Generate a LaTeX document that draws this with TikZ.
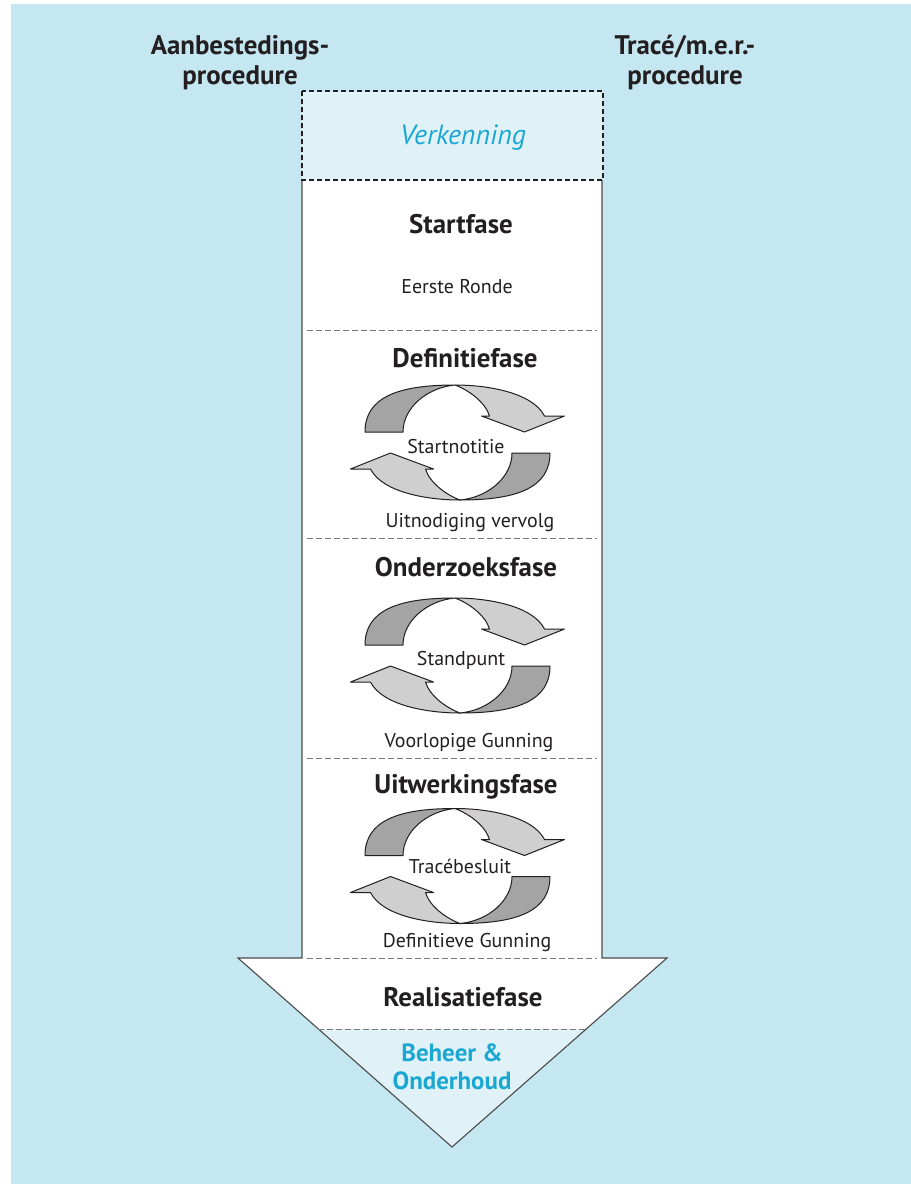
\documentclass[tikz,border=0pt]{standalone}
\usepackage{fontspec}
\setmainfont{PT Sans}
\definecolor{sky}{HTML}{C5E7F1}
\definecolor{pale}{HTML}{E0F2F7}
\definecolor{cyantext}{HTML}{1AA7D2}
\definecolor{ink}{HTML}{231F20}
\definecolor{edge}{HTML}{4A4A4A}
\definecolor{ribbondark}{HTML}{A4A4A4}
\definecolor{ribbonlight}{HTML}{CFCFCF}
\definecolor{divider}{HTML}{7A7A7A}
\tikzset{
  phase/.style={anchor=base, text=ink, font=\fontsize{27}{32}\selectfont\bfseries},
  note/.style={anchor=base, text=ink, font=\fontsize{20}{24}\selectfont},
  heading/.style={anchor=base, text=ink, align=center, font=\fontsize{27}{30}\selectfont\bfseries},
  divline/.style={draw=divider, line width=1bp, dash pattern=on 6bp off 3bp},
  ribbon back/.style={fill=ribbondark, draw=ink, line width=1bp, line join=round},
  ribbon front/.style={fill=ribbonlight, draw=ink, line width=1bp, line join=round},
  halfloop/.pic={
    \filldraw[ribbon back] (-92.5,-10.5) .. controls (-92.5,-45) and (-60,-57.5) .. (-2.5,-57.5)
      .. controls (-30,-55) and (-54.5,-35) .. (-54.5,-10.5) -- cycle;
    \filldraw[ribbon front] (-2.5,-57.5) .. controls (30,-57.5) and (75,-50) .. (87,-26.5)
      -- (107,-26.5) -- (67,-10.5) -- (24,-26.5) -- (32,-26.5)
      .. controls (28,-40) and (12,-52) .. (-2.5,-57.5) -- cycle;
  },
  loop pair/.pic={
    \pic {halfloop};
    \pic[rotate=180] {halfloop};
  }
}
\begin{document}
\begin{tikzpicture}[x=1bp,y=-1bp]
\useasboundingbox (0,0) rectangle (911,1184);
\fill[sky] (11,4) rectangle (911,1184);

% shaft and head of the big arrow
\coordinate (shaftTL) at (302,180);
\coordinate (shaftTR) at (602,180);
\coordinate (shaftBL) at (302,958);
\coordinate (shaftBR) at (602,958);
\coordinate (headL) at (238,958);
\coordinate (headR) at (667,958);
\coordinate (apex) at (452,1147);
\coordinate (baseL) at (318.4,1029);
\coordinate (baseR) at (586.2,1029);

\fill[white] (shaftTL) -- (shaftBL) -- (headL) -- (apex) -- (headR) -- (shaftBR) -- (shaftTR) -- cycle;
\fill[pale] (baseL) -- (baseR) -- (apex) -- cycle;
\draw[edge, line width=1.1bp, line join=miter] (shaftTL) -- (shaftBL) -- (headL) -- (apex) -- (headR) -- (shaftBR) -- (shaftTR);

% Verkenning box
\filldraw[fill=pale, draw=ink, line width=1.3bp, dash pattern=on 5bp off 3bp] (302,91) rectangle (603,180);

% phase dividers
\draw[divline] (307,330) -- (597,330);
\draw[divline] (307,538) -- (597,538);
\draw[divline] (307,758) -- (597,758);
\draw[divline] (307,958) -- (597,958);
\draw[divline] (baseL) -- (baseR);

% column headings (base = last line)
\node[heading] (aanb) at (240,84) {Aanbestedings-\\procedure};
\node[heading] (trace) at (685,84) {Tracé/m.e.r.-\\procedure};

\node[anchor=base, text=cyantext, font=\fontsize{28}{32}\selectfont\itshape] (verk) at (463,144) {Verkenning};

\node[phase] (start) at (461,233) {Startfase};
\node[note] (eerste) at (457,293) {Eerste Ronde};

\node[phase] (defin) at (465,367) {Definitiefase};
\pic at (457.5,442.5) {loop pair};
\node[note] (snot) at (456,453) {Startnotitie};
\node[note] (uitn) at (470,527) {Uitnodiging vervolg};

\node[phase] (onderz) at (466,576) {Onderzoeksfase};
\pic at (457.5,655.5) {loop pair};
\node[note] (stand) at (461,665) {Standpunt};
\node[note] (voorl) at (469,747) {Voorlopige Gunning};

\node[phase] (uitw) at (466,793) {Uitwerkingsfase};
\pic at (457.5,866) {loop pair};
\node[note] (tbes) at (460,873) {Tracébesluit};
\node[note] (defg) at (467,947) {Definitieve Gunning};

\node[phase] (real) at (463,1006) {Realisatiefase};
\node[anchor=base, text=cyantext, align=center, font=\fontsize{25}{28}\selectfont\bfseries] (beheer) at (452,1089) {Beheer \&\\Onderhoud};
\end{tikzpicture}
\end{document}
